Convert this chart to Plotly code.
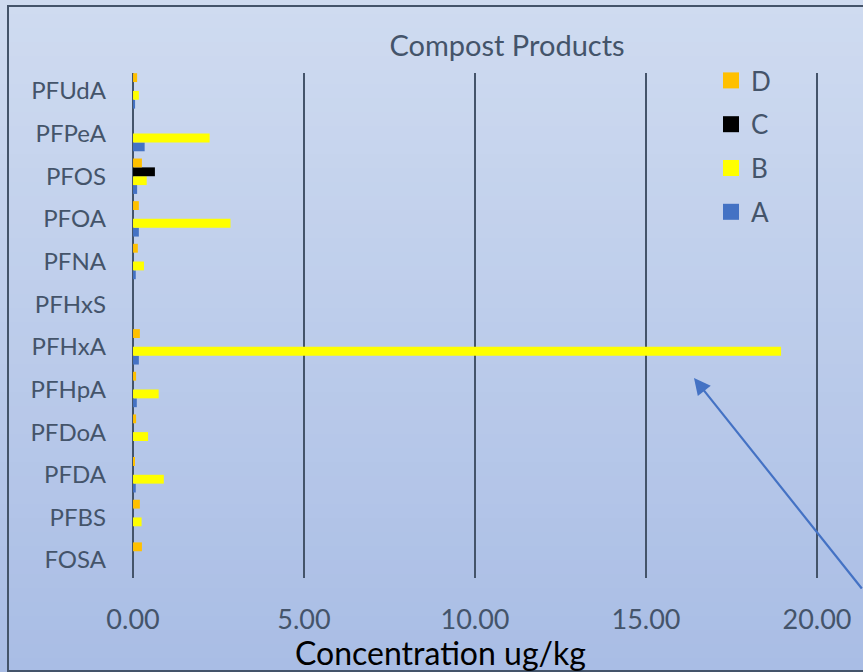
import plotly.graph_objects as go

# PFAS compounds, listed bottom-to-top on the category axis
compounds = ["FOSA", "PFBS", "PFDA", "PFDoA", "PFHpA", "PFHxA",
             "PFHxS", "PFNA", "PFOA", "PFOS", "PFPeA", "PFUdA"]

# Concentrations (ug/kg) for each compost product, in the same order
product_a = [0.00, 0.00, 0.08, 0.00, 0.11, 0.17, 0.00, 0.08, 0.17, 0.12, 0.34, 0.06]
product_b = [0.00, 0.25, 0.90, 0.44, 0.75, 18.95, 0.00, 0.32, 2.85, 0.40, 2.24, 0.17]
product_c = [0.00, 0.00, 0.00, 0.00, 0.00, 0.00, 0.00, 0.00, 0.00, 0.64, 0.00, 0.00]
product_d = [0.26, 0.20, 0.05, 0.09, 0.09, 0.20, 0.00, 0.14, 0.17, 0.26, 0.00, 0.12]

x_ticks = [0, 5, 10, 15, 20]
x_tick_text = ["0.00", "5.00", "10.00", "15.00", "20.00"]

# name, values, colour, legend rank (D listed first)
series = [
    ("A", product_a, "#4472c4", 4),
    ("B", product_b, "#ffff00", 3),
    ("C", product_c, "#000000", 2),
    ("D", product_d, "#ffc000", 1),
]

W, H = 863, 672
L, R, T, B = 132, 45, 73, 94
PW, PH = W - L - R, H - T - B
FONT = "Lato"
INK = "#44546a"


def px_x(px):
    return (px - L) / PW


def px_y(py):
    return (H - B - py) / PH


fig = go.Figure()
for name, vals, color, rank in series:
    fig.add_trace(go.Bar(
        y=compounds, x=vals, name=name, orientation="h",
        marker=dict(color=color, line=dict(width=0)),
        showlegend=False, legendgroup=name, legendrank=rank,
    ))
    # legend swatch
    fig.add_trace(go.Scatter(
        x=[None], y=[None], mode="markers", name=name, legendgroup=name,
        legendrank=rank,
        marker=dict(symbol="square", size=19, color=color),
    ))

# vertical gradient backdrop
steps = 48
top_rgb = (0xcf, 0xdb, 0xf0)
bot_rgb = (0xa9, 0xbd, 0xe5)
shapes = []
for i in range(steps):
    f = i / (steps - 1)
    c = tuple(round(top_rgb[k] + (bot_rgb[k] - top_rgb[k]) * f) for k in range(3))
    y0 = i * H / steps
    y1 = (i + 1) * H / steps + 1
    shapes.append(dict(
        type="rect", xref="paper", yref="paper", layer="below",
        x0=px_x(-5), x1=px_x(W + 5), y0=px_y(y0), y1=px_y(y1),
        fillcolor="rgb(%d,%d,%d)" % c, line=dict(width=0),
    ))
# chart frame
shapes.append(dict(
    type="rect", xref="paper", yref="paper", layer="above",
    x0=px_x(8), x1=px_x(W + 20), y0=px_y(671), y1=px_y(6),
    line=dict(color=INK, width=2), fillcolor="rgba(0,0,0,0)",
))

fig.update_layout(
    width=W, height=H,
    margin=dict(l=L, r=R, t=T, b=B, autoexpand=False),
    paper_bgcolor="#bccbea",
    plot_bgcolor="rgba(0,0,0,0)",
    barmode="group", bargap=0.17, bargroupgap=0,
    font=dict(family=FONT, color=INK),
    title=dict(text="Compost Products", font=dict(size=29, color=INK, family=FONT),
               x=px_x(507), xref="paper", xanchor="center",
               y=1 - 46 / H, yref="container", yanchor="middle"),
    shapes=shapes,
    legend=dict(
        x=px_x(711), y=px_y(57), xanchor="left", yanchor="top",
        traceorder="grouped", bgcolor="rgba(0,0,0,0)",
        font=dict(size=26, color=INK, family=FONT),
        tracegroupgap=7, itemsizing="trace",
    ),
    xaxis=dict(
        range=[-0.03, 20.03], tickvals=x_ticks, ticktext=x_tick_text,
        showgrid=True, gridcolor=INK, gridwidth=1.6, zeroline=False,
        showline=False, ticks="", ticklabelstandoff=23, automargin=False,
        tickfont=dict(size=27, color=INK, family=FONT),
        fixedrange=True,
    ),
    yaxis=dict(
        type="category", categoryorder="array", categoryarray=compounds,
        range=[-0.42, len(compounds) - 0.58], automargin=False,
        showgrid=False, zeroline=False, showline=False, ticks="",
        ticklabelstandoff=25,
        tickfont=dict(size=24, color=INK, family=FONT),
    ),
    annotations=[
        dict(
            xref="paper", yref="paper", x=px_x(440), y=px_y(652),
            xanchor="center", yanchor="middle", showarrow=False,
            text="Concentration ug/kg",
            font=dict(size=32, color="#000000", family=FONT),
        ),
        dict(
            xref="paper", yref="paper", x=px_x(694), y=px_y(378),
            text="", showarrow=True, ax=190, ay=212, axref="pixel", ayref="pixel",
            arrowhead=2, arrowsize=1.5, arrowwidth=2.2, arrowcolor="#4472c4",
            standoff=0,
        ),
    ],
)

fig.write_html("out.html")
